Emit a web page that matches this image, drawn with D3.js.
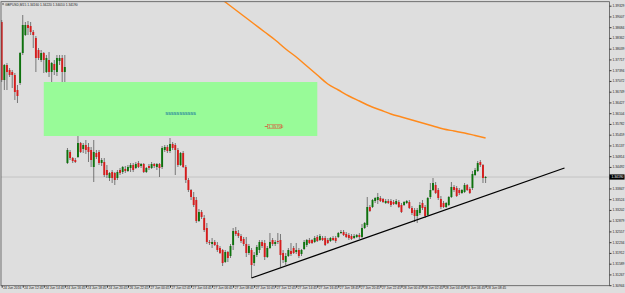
<!DOCTYPE html>
<meta charset="utf-8">
<style>
body{margin:0;background:#dedede;}
svg{display:block;font-family:"Liberation Sans",Arial,sans-serif;}
.axis path{display:none;}
.axis line{stroke:#333;}
.axis text{fill:#222;font-size:3.3px;}
</style>
<svg width="625" height="293"></svg>
<script src="https://d3js.org/d3.v7.min.js"></script>
<script>
var symbolInfo = "GBPUSD,M15  1.34160 1.34220 1.34010 1.34190";

// M15 bars, [open, high, low, close]
var ohlc = [
[1.3884,1.3890,1.3704,1.3710],[1.3710,1.3758,1.3680,1.3755],[1.3755,1.3761,1.3680,1.3734],[1.3740,1.3746,1.3719,1.3725],
[1.3734,1.3740,1.3686,1.3725],[1.3725,1.3731,1.3650,1.3674],[1.3680,1.3695,1.3641,1.3662],[1.3701,1.3794,1.3695,1.3791],
[1.3791,1.3905,1.3785,1.3875],[1.3845,1.3884,1.3842,1.3875],[1.3875,1.3887,1.3845,1.3866],[1.3872,1.3884,1.3845,1.3854],
[1.3854,1.3860,1.3806,1.3845],[1.3836,1.3842,1.3734,1.3776],[1.3800,1.3806,1.3770,1.3776],[1.3770,1.3800,1.3764,1.3791],
[1.3791,1.3794,1.3731,1.3770],[1.3734,1.3785,1.3731,1.3776],[1.3770,1.3794,1.3719,1.3734],[1.3734,1.3764,1.3704,1.3761],
[1.3758,1.3770,1.3725,1.3740],[1.3734,1.3785,1.3722,1.3776],[1.3767,1.3785,1.3755,1.3776],[1.3776,1.3785,1.3704,1.3734],
[1.3734,1.3785,1.3704,1.3749],[1.3461,1.3506,1.3458,1.3500],[1.3494,1.3500,1.3470,1.3476],[1.3476,1.3479,1.3461,1.3467],
[1.3470,1.3476,1.3461,1.3464],[1.3479,1.3548,1.3476,1.3521],[1.3521,1.3524,1.3491,1.3494],[1.3503,1.3521,1.3491,1.3515],
[1.3515,1.3530,1.3488,1.3500],[1.3509,1.3521,1.3464,1.3494],[1.3500,1.3509,1.3449,1.3470],[1.3449,1.3530,1.3404,1.3494],
[1.3491,1.3500,1.3473,1.3479],[1.3494,1.3500,1.3455,1.3461],[1.3461,1.3476,1.3452,1.3470],[1.3464,1.3476,1.3419,1.3425],
[1.3440,1.3455,1.3416,1.3425],[1.3416,1.3434,1.3407,1.3431],[1.3434,1.3440,1.3401,1.3416],[1.3431,1.3434,1.3395,1.3410],
[1.3416,1.3440,1.3410,1.3434],[1.3440,1.3446,1.3425,1.3431],[1.3434,1.3452,1.3428,1.3449],[1.3443,1.3452,1.3431,1.3437],
[1.3437,1.3455,1.3434,1.3449],[1.3446,1.3461,1.3434,1.3455],[1.3455,1.3461,1.3434,1.3440],[1.3446,1.3464,1.3443,1.3458],
[1.3461,1.3467,1.3446,1.3449],[1.3452,1.3461,1.3446,1.3458],[1.3458,1.3461,1.3431,1.3434],[1.3434,1.3449,1.3431,1.3446],
[1.3452,1.3458,1.3440,1.3446],[1.3446,1.3464,1.3443,1.3458],[1.3458,1.3461,1.3446,1.3452],[1.3449,1.3461,1.3440,1.3458],
[1.3458,1.3461,1.3419,1.3446],[1.3449,1.3512,1.3443,1.3506],[1.3500,1.3515,1.3494,1.3509],[1.3509,1.3515,1.3491,1.3497],
[1.3497,1.3536,1.3491,1.3518],[1.3518,1.3524,1.3500,1.3506],[1.3515,1.3521,1.3425,1.3500],[1.3500,1.3506,1.3449,1.3455],
[1.3455,1.3494,1.3452,1.3491],[1.3491,1.3497,1.3446,1.3449],[1.3449,1.3455,1.3401,1.3410],[1.3410,1.3416,1.3374,1.3380],
[1.3380,1.3383,1.3350,1.3359],[1.3359,1.3374,1.3329,1.3335],[1.3350,1.3359,1.3281,1.3287],[1.3287,1.3323,1.3284,1.3314],
[1.3314,1.3320,1.3293,1.3299],[1.3296,1.3305,1.3254,1.3260],[1.3266,1.3281,1.3218,1.3224],[1.3224,1.3230,1.3215,1.3221],
[1.3218,1.3236,1.3206,1.3224],[1.3224,1.3230,1.3212,1.3215],[1.3215,1.3224,1.3194,1.3200],[1.3206,1.3212,1.3188,1.3191],
[1.3200,1.3203,1.3152,1.3161],[1.3164,1.3200,1.3161,1.3194],[1.3194,1.3197,1.3164,1.3176],[1.3182,1.3218,1.3176,1.3212],
[1.3215,1.3266,1.3200,1.3257],[1.3257,1.3269,1.3242,1.3248],[1.3251,1.3260,1.3236,1.3242],[1.3242,1.3248,1.3221,1.3227],
[1.3233,1.3239,1.3212,1.3218],[1.3218,1.3239,1.3179,1.3191],[1.3191,1.3218,1.3185,1.3212],[1.3200,1.3206,1.3116,1.3155],
[1.3161,1.3194,1.3152,1.3185],[1.3185,1.3215,1.3179,1.3209],[1.3200,1.3230,1.3191,1.3224],[1.3224,1.3230,1.3206,1.3212],
[1.3221,1.3230,1.3170,1.3179],[1.3179,1.3212,1.3176,1.3206],[1.3206,1.3251,1.3203,1.3224],[1.3230,1.3236,1.3212,1.3218],
[1.3218,1.3230,1.3212,1.3224],[1.3227,1.3251,1.3218,1.3224],[1.3230,1.3248,1.3149,1.3185],[1.3191,1.3200,1.3161,1.3170],
[1.3164,1.3191,1.3155,1.3182],[1.3182,1.3206,1.3179,1.3200],[1.3197,1.3221,1.3182,1.3188],[1.3206,1.3212,1.3188,1.3191],
[1.3194,1.3221,1.3188,1.3200],[1.3200,1.3206,1.3176,1.3182],[1.3188,1.3203,1.3182,1.3200],[1.3203,1.3230,1.3200,1.3224],
[1.3215,1.3233,1.3209,1.3230],[1.3230,1.3236,1.3218,1.3221],[1.3230,1.3233,1.3218,1.3221],[1.3224,1.3242,1.3221,1.3236],
[1.3239,1.3245,1.3224,1.3227],[1.3230,1.3248,1.3227,1.3242],[1.3236,1.3242,1.3227,1.3230],[1.3236,1.3242,1.3212,1.3215],
[1.3230,1.3236,1.3218,1.3221],[1.3227,1.3239,1.3224,1.3236],[1.3236,1.3242,1.3227,1.3230],[1.3236,1.3242,1.3221,1.3227],
[1.3239,1.3254,1.3236,1.3251],[1.3251,1.3260,1.3248,1.3254],[1.3254,1.3260,1.3242,1.3245],[1.3248,1.3254,1.3236,1.3239],
[1.3245,1.3251,1.3230,1.3236],[1.3242,1.3248,1.3230,1.3233],[1.3236,1.3248,1.3233,1.3242],[1.3239,1.3248,1.3236,1.3245],
[1.3245,1.3251,1.3233,1.3239],[1.3239,1.3278,1.3236,1.3266],[1.3266,1.3284,1.3263,1.3281],[1.3275,1.3359,1.3269,1.3329],
[1.3329,1.3335,1.3314,1.3317],[1.3329,1.3353,1.3326,1.3350],[1.3347,1.3359,1.3341,1.3356],[1.3350,1.3371,1.3338,1.3359],
[1.3356,1.3362,1.3344,1.3347],[1.3353,1.3356,1.3341,1.3344],[1.3341,1.3353,1.3338,1.3347],[1.3347,1.3353,1.3338,1.3341],
[1.3347,1.3353,1.3329,1.3335],[1.3344,1.3350,1.3335,1.3338],[1.3338,1.3353,1.3335,1.3347],[1.3344,1.3350,1.3326,1.3329],
[1.3335,1.3341,1.3311,1.3314],[1.3335,1.3347,1.3332,1.3344],[1.3341,1.3350,1.3338,1.3347],[1.3344,1.3350,1.3323,1.3326],
[1.3326,1.3332,1.3305,1.3311],[1.3320,1.3326,1.3284,1.3302],[1.3302,1.3326,1.3281,1.3320],[1.3311,1.3344,1.3305,1.3335],
[1.3341,1.3350,1.3320,1.3326],[1.3329,1.3335,1.3296,1.3302],[1.3305,1.3359,1.3302,1.3356],[1.3359,1.3401,1.3353,1.3380],
[1.3380,1.3416,1.3377,1.3401],[1.3395,1.3404,1.3368,1.3371],[1.3380,1.3386,1.3350,1.3356],[1.3353,1.3362,1.3323,1.3329],
[1.3341,1.3347,1.3326,1.3329],[1.3329,1.3344,1.3326,1.3341],[1.3335,1.3362,1.3332,1.3359],[1.3359,1.3404,1.3356,1.3389],
[1.3389,1.3395,1.3374,1.3380],[1.3386,1.3392,1.3359,1.3362],[1.3380,1.3386,1.3365,1.3371],[1.3371,1.3383,1.3368,1.3380],
[1.3374,1.3401,1.3371,1.3395],[1.3395,1.3398,1.3377,1.3380],[1.3383,1.3389,1.3368,1.3371],[1.3386,1.3437,1.3380,1.3428],
[1.3425,1.3446,1.3422,1.3440],[1.3437,1.3467,1.3434,1.3461],[1.3464,1.3470,1.3449,1.3455],[1.3455,1.3458,1.3401,1.3416],
[1.3416,1.3422,1.3401,1.3419]
];
var bid = 1.3419;

var timeLabels = ["24 Jun 2016","24 Jun 12:45","24 Jun 14:45","24 Jun 16:45","24 Jun 18:45","24 Jun 20:45",
  "26 Jun 22:45","27 Jun 00:45","27 Jun 02:45","27 Jun 04:45","27 Jun 06:45","27 Jun 08:45","27 Jun 10:45",
  "27 Jun 12:45","27 Jun 14:45","27 Jun 16:45","27 Jun 18:45","27 Jun 20:45","27 Jun 22:45","28 Jun 00:45",
  "28 Jun 02:45","28 Jun 04:45","28 Jun 06:45","28 Jun 08:45"];
var priceTicks = [1.39329,1.39007,1.38684,1.38362,1.38039,1.37717,1.37394,1.37072,1.36749,1.36427,1.36104,
  1.35782,1.35459,1.35137,1.34814,1.34492,1.34169,1.33847,1.33524,1.33202,1.32879,1.32557,1.32234,1.31912,
  1.31589,1.31267,1.30944];

// moving average (orange)
var maBars = [80,84,88,92,96,100,104,108,112,116,120,124,128,132,136,140,144,148,152,156,160,164,168,172,176,180,184];
var maValues = [1.3974,1.3950,1.3926,1.3902,1.3878,1.3854,1.3830,1.3803,1.3779,1.3752,1.3725,1.3698,1.3680,1.3662,
  1.3647,1.3632,1.3620,1.3608,1.3599,1.3590,1.3581,1.3572,1.3563,1.3557,1.3551,1.35435,1.3536];

// trend line and rectangle
var trendBars = [95, 214], trendPrices = [1.3116, 1.3446];
var boxBars = [16, 120], boxPrices = [1.3704, 1.3542];
var boxText = "sssssssssss", boxTextBar = 68, boxTextPrice = 1.3609;
var levelText = "1.35700", levelBar = 100, levelPrice = 1.35705;

var svg = d3.select("svg"),
    plotLeft = 1, plotTop = 1.7, plotRight = 609.5, plotBottom = 285.7;

var x = d3.scaleLinear().domain([0, 184]).range([1.7, 485.6]);
var y = d3.scaleLinear().domain([1.3071, 1.3950]).range([293, 0]);

svg.append("defs").append("clipPath").attr("id", "clip")
  .append("rect").attr("x", plotLeft).attr("y", plotTop)
  .attr("width", plotRight - plotLeft).attr("height", plotBottom - plotTop);

var g = svg.append("g").attr("clip-path", "url(#clip)");

// bid line
g.append("line").attr("x1", plotLeft).attr("x2", plotRight)
  .attr("y1", y(bid)).attr("y2", y(bid)).attr("stroke", "#bdbdbd").attr("stroke-width", 0.8);

g.selectAll(".wick").data(ohlc).enter().append("line")
  .attr("x1", function(d, i) { return x(i); })
  .attr("x2", function(d, i) { return x(i); })
  .attr("y1", function(d) { return y(d[1]); })
  .attr("y2", function(d) { return y(d[2]); })
  .attr("stroke", "#5c5c5c").attr("stroke-width", 0.8);

g.selectAll(".body").data(ohlc).enter().append("rect")
  .attr("x", function(d, i) { return x(i) - 0.95; })
  .attr("width", 1.9)
  .attr("y", function(d) { return y(Math.max(d[0], d[3])); })
  .attr("height", function(d) { return Math.max(0.8, Math.abs(y(d[0]) - y(d[3]))); })
  .attr("fill", function(d) { return d[3] >= d[0] ? "#0d720d" : "#d61c1c"; });

// rectangle covers the bars behind it
g.append("rect")
  .attr("x", x(boxBars[0])).attr("y", y(boxPrices[0]))
  .attr("width", x(boxBars[1]) - x(boxBars[0]))
  .attr("height", y(boxPrices[1]) - y(boxPrices[0]))
  .attr("fill", "#98fb98");

g.append("text").attr("x", x(boxTextBar)).attr("y", y(boxTextPrice) + 1.8)
  .attr("text-anchor", "middle").attr("font-size", 5.4).attr("font-weight", "bold")
  .attr("letter-spacing", -0.2).attr("fill", "#2c8c9c")
  .text(boxText);

g.append("line").attr("x1", x(levelBar)).attr("x2", x(levelBar) + 3)
  .attr("y1", y(levelPrice)).attr("y2", y(levelPrice)).attr("stroke", "#d8402a").attr("stroke-width", 0.7);
g.append("rect").attr("x", x(levelBar) + 3).attr("y", y(levelPrice) - 2.2)
  .attr("width", 14).attr("height", 4.4).attr("fill", "none")
  .attr("stroke", "#e05a3a").attr("stroke-width", 0.5);
g.append("text").attr("x", x(levelBar) + 3.6).attr("y", y(levelPrice) + 1.5)
  .attr("font-size", 4.2).attr("fill", "#d8402a").text(levelText);

var ma = d3.line()
  .x(function(d, i) { return x(maBars[i]); })
  .y(function(d) { return y(d); })
  .curve(d3.curveMonotoneX);
g.append("path").datum(maValues).attr("d", ma)
  .attr("fill", "none").attr("stroke", "#ff8a1c").attr("stroke-width", 1.5);

g.append("line")
  .attr("x1", x(trendBars[0])).attr("y1", y(trendPrices[0]))
  .attr("x2", x(trendBars[1])).attr("y2", y(trendPrices[1]))
  .attr("stroke", "#000").attr("stroke-width", 1.3);

// frame
svg.append("rect").attr("x", plotLeft).attr("y", plotTop)
  .attr("width", plotRight - plotLeft).attr("height", plotBottom - plotTop)
  .attr("fill", "none").attr("stroke", "#555").attr("stroke-width", 0.8);

// price axis
svg.append("g").attr("class", "axis")
  .attr("transform", "translate(" + plotRight + ",0)")
  .call(d3.axisRight(y).tickValues(priceTicks).tickSize(2).tickPadding(1).tickFormat(d3.format(".5f")));

// time axis
var timeBars = timeLabels.map(function(d, i) { return i * 8; });
svg.append("g").attr("class", "axis")
  .attr("transform", "translate(0," + plotBottom + ")")
  .call(d3.axisBottom(x).tickValues(timeBars).tickSize(2)
    .tickFormat(function(d, i) { return timeLabels[i]; }))
  .selectAll("text").attr("text-anchor", "start").attr("x", 1).attr("y", 1.3).attr("dy", "0.71em");

// bid label
svg.append("rect").attr("x", plotRight).attr("y", y(bid) - 2.6)
  .attr("width", 15).attr("height", 5.2).attr("fill", "#000");
svg.append("text").attr("x", plotRight + 2).attr("y", y(bid) + 1.1)
  .attr("font-size", 3.3).attr("fill", "#fff").text(d3.format(".5f")(bid));

// header
svg.append("path").attr("d", "M2,3.5 L4,3.5 L3,5.2 Z").attr("fill", "#333");
svg.append("text").attr("x", 5).attr("y", 5.6).attr("font-size", 3.3).attr("fill", "#222").text(symbolInfo);
</script>
